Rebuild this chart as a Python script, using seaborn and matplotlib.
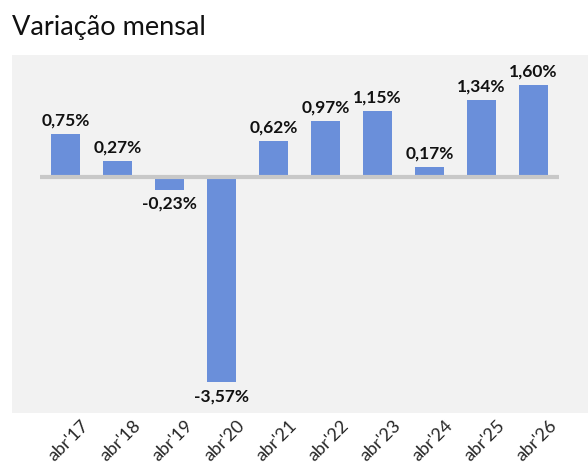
import pandas as pd
import seaborn as sns
import matplotlib.pyplot as plt
import matplotlib.transforms as mtrans

meses = ["abr'17", "abr'18", "abr'19", "abr'20", "abr'21", "abr'22", "abr'23", "abr'24", "abr'25", "abr'26"]
variacao = [0.75, 0.27, -0.23, -3.57, 0.62, 0.97, 1.15, 0.17, 1.34, 1.60]

sns.set_style('white')
plt.rcParams['font.family'] = ['Lato', 'DejaVu Sans']

df = pd.DataFrame({'mes': meses, 'var': variacao})

fig = plt.figure(figsize=(5.88, 4.72), dpi=100)
ax = fig.add_axes([0.0204, 0.125, 0.9796, 0.7585])
ax.set_facecolor('#f2f2f2')

sns.barplot(data=df, x='mes', y='var', color='#6a8fda', saturation=1, width=0.56,
            linewidth=0, ax=ax)
ax.hlines(0, -0.5, 9.5, color='#c8c8c8', lw=3, zorder=1)

for i, v in enumerate(variacao):
    txt = f'{v:.2f}%'.replace('.', ',')
    if v >= 0:
        ax.annotate(txt, (i, v), xytext=(0, 4), textcoords='offset points',
                    ha='center', va='bottom', fontsize=12.5, fontweight='bold', color='#111111')
    else:
        ax.annotate(txt, (i, v), xytext=(0, -4), textcoords='offset points',
                    ha='center', va='top', fontsize=12.5, fontweight='bold', color='#111111')

ax.set_xlim(-1.03, 10.05)
ax.set_ylim(-4.10, 2.12)
ax.set_yticks([])
ax.set_xlabel('')
ax.set_ylabel('')
ax.tick_params(axis='x', length=0, pad=3)
shift = mtrans.ScaledTranslation(0.15, 0, fig.dpi_scale_trans)
for lab in ax.get_xticklabels():
    lab.set_rotation(45)
    lab.set_ha('right')
    lab.set_rotation_mode('anchor')
    lab.set_fontsize(13)
    lab.set_color('#262626')
    lab.set_transform(lab.get_transform() + shift)
for s in ax.spines.values():
    s.set_visible(False)

fig.text(0.0204, 0.915, 'Variação mensal', fontsize=19.5, color='#111111', ha='left', va='bottom')

fig.savefig('out.png', dpi=100)
